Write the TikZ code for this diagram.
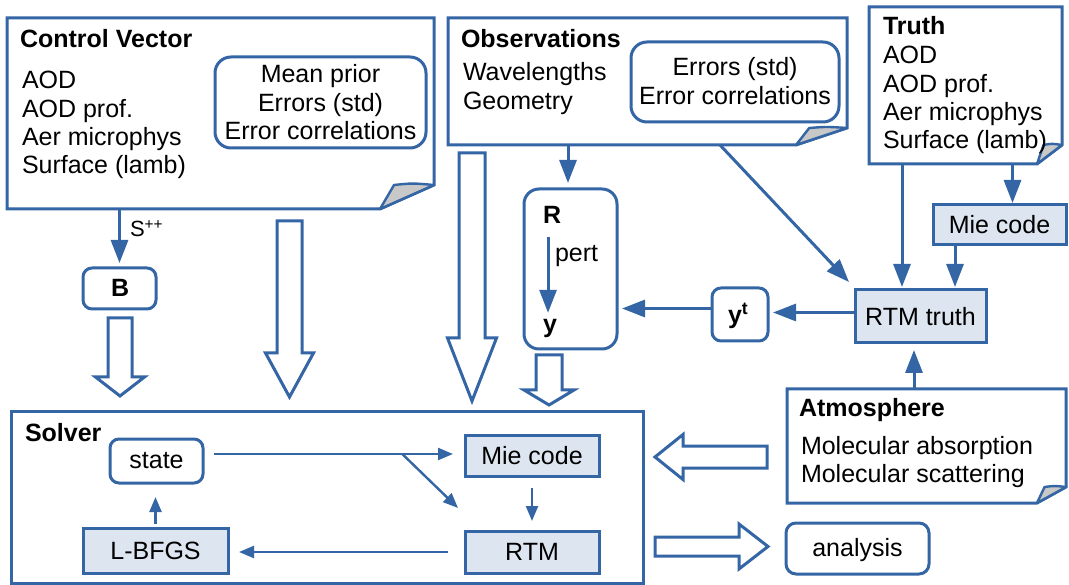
\documentclass[tikz,border=0pt]{standalone}
\usepackage{fontspec}
\setmainfont{Liberation Sans}
\usetikzlibrary{arrows.meta,calc,fit}
\definecolor{lblue}{RGB}{52,101,164}
\definecolor{lfill}{RGB}{221,230,240}
\definecolor{lgray}{RGB}{200,200,200}
\newcommand\lns[1]{\begin{tabular}[t]{@{}l@{}}#1\end{tabular}}
\newcommand\clns[1]{\begin{tabular}[t]{@{}c@{}}#1\end{tabular}}
\newcommand\foldedbox[3]{%
  \draw[ln, line join=miter, fill=white] (#1.north west) -- (#1.north east) -- ($(#1.south east)+(0,-#3)$) -- ($(#1.south east)+(-#2,0)$) -- (#1.south west) -- cycle;
  \filldraw[foldc] ($(#1.south east)+(-#2,0)$) -- ($(#1.south east)+({-#2*0.74},-#3)$) .. controls ($(#1.south east)+({-#2*0.4},{-#3*1.08})$) .. ($(#1.south east)+(0,-#3)$) -- cycle;}
\newcommand\hdown[6]{%
  \draw[hollow] ({#1-#5},#2) -- ({#1+#5},#2) -- ({#1+#5},#3) -- ({#1+#6},#3) -- (#1,#4) -- ({#1-#6},#3) -- ({#1-#5},#3) -- cycle;}
\newcommand\hhoriz[6]{%
  \draw[hollow] (#2,{#1-#5}) -- (#3,{#1-#5}) -- (#3,{#1-#6}) -- (#4,#1) -- (#3,{#1+#6}) -- (#3,{#1+#5}) -- (#2,{#1+#5}) -- cycle;}
\tikzset{
 ln/.style={draw=lblue, line width=3pt},
 fbx/.style={ln, fill=lfill, inner sep=0pt, outer sep=0pt},
 rbx/.style={ln, fill=white, rounded corners=#1, inner sep=0pt, outer sep=0pt},
 rbx/.default=9pt,
 zone/.style={inner sep=0pt, outer sep=0pt},
 tx/.style={inner sep=0pt, outer sep=0pt, anchor=base west},
 ctx/.style={inner sep=0pt, outer sep=0pt, anchor=base},
 mtx/.style={inner sep=0pt, outer sep=0pt, anchor=center},
 arr/.style={draw=lblue, line width=3pt, -{Triangle[length=23pt,width=17pt]}},
 sarr/.style={draw=lblue, line width=2.4pt, -{Triangle[length=15pt,width=12pt]}},
 hollow/.style={draw=lblue, line width=3pt, fill=white, line join=miter},
 foldc/.style={draw=lblue, line width=2.4pt, fill=lgray, line join=round},
}
\begin{document}
\fontsize{25}{28.3}\selectfont
\begin{tikzpicture}[x=1pt,y=-1pt]
\useasboundingbox (0,0) rectangle (1069,585);

% ---------- Control vector
\node[zone, fit={(7,18) (434,209)}] (cv) {};
\foldedbox{cv}{54}{24}
\node[tx, font=\bfseries] (cvt) at (20,48) {Control Vector};
\node[tx] (cvl) at (22,89) {\lns{AOD\\AOD prof.\\Aer microphys\\Surface (lamb)}};
\node[rbx=16pt, fit={(215,57) (426,148)}] (cvin) {};
\node[ctx] (cvint) at (320.5,83) {\clns{Mean prior\\Errors (std)\\Error correlations}};

% ---------- Observations
\node[zone, fit={(448,18) (847,145)}] (obs) {};
\foldedbox{obs}{51}{17}
\node[tx, font=\bfseries] (obst) at (461,48) {Observations};
\node[tx] (obsl) at (463,81) {\lns{Wavelengths\\Geometry}};
\node[rbx=16pt, fit={(631,42) (839,122)}] (obsin) {};
\node[ctx] (obsint) at (735,76) {\clns{Errors (std)\\Error correlations}};

% ---------- Truth
\node[zone, fit={(869,7) (1062,164)}] (tr) {};
\foldedbox{tr}{25}{19}
\node[tx, font=\bfseries] (trt) at (883,35) {Truth};
\node[tx] (trl) at (883,64) {\lns{AOD\\AOD prof.\\Aer microphys\\Surface (lamb)}};

% ---------- Atmosphere
\node[zone, fit={(787,389) (1066,503)}] (atm) {};
\foldedbox{atm}{29}{16}
\node[tx, font=\bfseries] (atmt) at (799,417) {Atmosphere};
\node[tx] (atml) at (801,454) {\lns{Molecular absorption\\Molecular scattering}};

% ---------- upper boxes
\node[fbx, fit={(933,205) (1066,245)}] (mie1) {};
\node[mtx] (mie1t) at (mie1.center) {Mie code};
\node[fbx, fit={(855,290) (986,343)}] (rtmt) {};
\node[mtx] (rtmtt) at (rtmt.center) {RTM truth};
\node[rbx=9pt, fit={(712,288) (768,341)}] (yt) {};
\node[tx, font=\bfseries] (ytt) at (728,324) {y\textsuperscript{t}};
\node[rbx=15pt, fit={(524,189) (617,349)}] (ry) {};
\node[tx, font=\bfseries] (Rl) at (543,224) {R};
\node[tx, font=\bfseries] (yl) at (543,333) {y};
\node[tx] (pl) at (555,262) {pert};
\node[rbx=9pt, fit={(83,268) (156,309)}] (B) {};
\node[tx, font=\bfseries] (Bt) at (111,297) {B};
\node[tx, font=\fontsize{22}{25}\selectfont] (sl) at (130,237) {S\textsuperscript{++}};

% ---------- Solver
\node[ln, zone, fit={(11,412) (643,583)}] (sol) {};
\node[tx, font=\bfseries] (solt) at (25,441) {Solver};
\node[rbx=9pt, fit={(110,439) (203,483)}] (st) {};
\node[mtx] (stt) at (st.center) {state};
\node[fbx, fit={(83,528) (228,573)}] (lb) {};
\node[mtx] (lbt) at (lb.center) {L-BFGS};
\node[fbx, fit={(465,435) (599,476)}] (mie2) {};
\node[mtx] (mie2t) at (mie2.center) {Mie code};
\node[fbx, fit={(465,531) (599,573)}] (rtm) {};
\node[mtx] (rtmtx) at (rtm.center) {RTM};

% ---------- analysis
\node[rbx=10pt, fit={(786,523) (929,574)}] (an) {};
\node[mtx] (ant) at ([yshift=-2pt]an.center) {analysis};

% ---------- hollow arrows
\hdown{120}{318}{377}{396}{12}{24.5}
\hdown{289.5}{221}{353}{397}{12.5}{24}
\hdown{472}{153}{338}{401}{13}{24.5}
\hdown{549}{355}{390}{405}{13}{25}
\hhoriz{457}{767}{683}{655}{11}{22.5}
\hhoriz{546.5}{655}{739}{768}{9.5}{22.5}

% ---------- connectors
\draw[arr, shorten >=5pt] (B.north |- cv.south) -- (B.north);
\coordinate (oa) at ([xshift=-2.5pt]ry.north |- obs.south);
\draw[arr, shorten >=6pt] (oa) -- (oa |- ry.north);
\coordinate (ob) at ($(obs.south west)+(272,0)$);
\draw[arr] (ob) -- ($(rtmt.north west)+(-6,-8)$);
\coordinate (ta) at ([xshift=13pt]mie1.north |- tr.south);
\draw[arr, shorten >=2pt] (ta) -- (ta |- mie1.north);
\coordinate (tb) at ([xshift=-18.5pt]rtmt.north |- tr.south);
\draw[arr, shorten >=3pt] (tb) -- (tb |- rtmt.north);
\coordinate (tc) at ([xshift=34.5pt]rtmt.north |- mie1.south);
\draw[arr, shorten >=3pt] (tc) -- (tc |- rtmt.north);
\coordinate (ra) at ([yshift=2pt]rtmt.west |- yt.east);
\draw[arr, shorten >=5pt] (ra) -- (ra -| yt.east);
\coordinate (ya) at ([yshift=6pt]yt.west);
\draw[arr, shorten >=5pt] (ya) -- (ya -| ry.east);
\coordinate (aa) at ([xshift=-6.5pt]rtmt.south |- atm.north);
\draw[arr, shorten >=7pt] (aa) -- (aa |- rtmt.south);
\coordinate (p1) at ([xshift=-4pt]Rl.south);
\coordinate (p2) at (p1 |- yl.north);
\draw[arr, shorten <=13pt, shorten >=7pt] (p1) -- (p2);

% solver connectors
\coordinate (sa) at ([xshift=11pt,yshift=7pt]st.east);
\coordinate (sb) at (sa -| mie2.west);
\draw[sarr, shorten >=12pt] (sa) -- (sb);
\coordinate (sc) at ($(sa)!0.75!(sb)$);
\draw[sarr] (sc) -- ($(rtm.north west)+(-7,-23)$);
\draw[sarr, shorten <=12pt, shorten >=10pt] (mie2.south) -- (rtm.north);
\draw[sarr, shorten <=17pt, shorten >=11pt] (rtm.west) -- (rtm.west -| lb.east);
\draw[sarr, shorten <=4pt, shorten >=14pt] (lb.north) -- (lb.north |- st.south);
\end{tikzpicture}
\end{document}
